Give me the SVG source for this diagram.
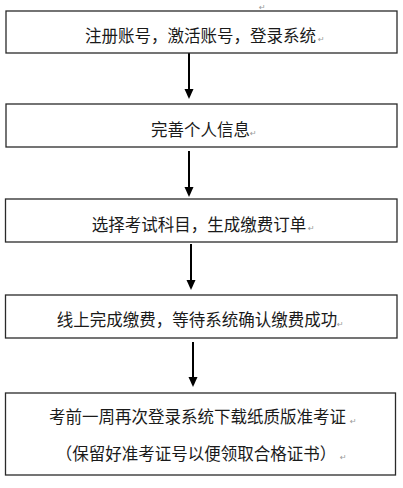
<svg xmlns="http://www.w3.org/2000/svg" width="403" height="488" viewBox="0 0 403 488">
<style>
.box{fill:#fff;stroke:#2a2a2a;stroke-width:1.3}
.t{font-family:"Noto Sans CJK SC","Noto Sans",sans-serif;font-size:16.5px;fill:#1a1a1a;text-anchor:middle}
.pm{font-family:"DejaVu Sans",sans-serif;font-size:8px;fill:#999}
.c{stroke:#000;stroke-width:2;fill:none}
</style>
<defs>
<marker id="ah" markerWidth="10" markerHeight="10" refX="5" refY="9" orient="auto" markerUnits="userSpaceOnUse" viewBox="0 0 10 10">
<path d="M1,0 L9,0 L5,10 Z" fill="#000" transform="rotate(-90 5 5)"/>
</marker>
</defs>
<rect width="403" height="488" fill="#fff"/>
<text class="pm" x="259" y="10">↵</text>
<g id="connectors">
<line class="c" x1="189" y1="53" x2="189" y2="90"/>
<path d="M184.5,89 L193.5,89 L189,99 Z"/>
<line class="c" x1="189" y1="151" x2="189" y2="188"/>
<path d="M184.5,187 L193.5,187 L189,197 Z"/>
<line class="c" x1="191" y1="244" x2="191" y2="281"/>
<path d="M186.5,280 L195.5,280 L191,290 Z"/>
<line class="c" x1="193" y1="342" x2="193" y2="378"/>
<path d="M188.5,377 L197.5,377 L193,387 Z"/>
</g>
<g id="n1">
<rect class="box" x="6" y="11" width="391" height="42"/>
<text class="t" x="200.5" y="41.5">注册账号，激活账号，登录系统</text>
<text class="pm" x="318" y="42">↵</text>
</g>
<g id="n2">
<rect class="box" x="6" y="104" width="391" height="43"/>
<text class="t" x="200.5" y="135.5">完善个人信息</text>
<text class="pm" x="250" y="136">↵</text>
</g>
<g id="n3">
<rect class="box" x="5.5" y="199" width="391.5" height="43"/>
<text class="t" x="199" y="230.5">选择考试科目，生成缴费订单</text>
<text class="pm" x="308" y="231">↵</text>
</g>
<g id="n4">
<rect class="box" x="5.5" y="295" width="391.5" height="43"/>
<text class="t" x="197" y="326">线上完成缴费，等待系统确认缴费成功</text>
<text class="pm" x="337" y="327">↵</text>
</g>
<g id="n5">
<rect class="box" x="5.5" y="393" width="390" height="82"/>
<text class="t" x="197.5" y="423">考前一周再次登录系统下载纸质版准考证</text>
<text class="pm" x="350" y="424">↵</text>
<text class="t" x="196" y="459.5">（保留好准考证号以便领取合格证书）</text>
<text class="pm" x="340" y="460">↵</text>
</g>
</svg>
